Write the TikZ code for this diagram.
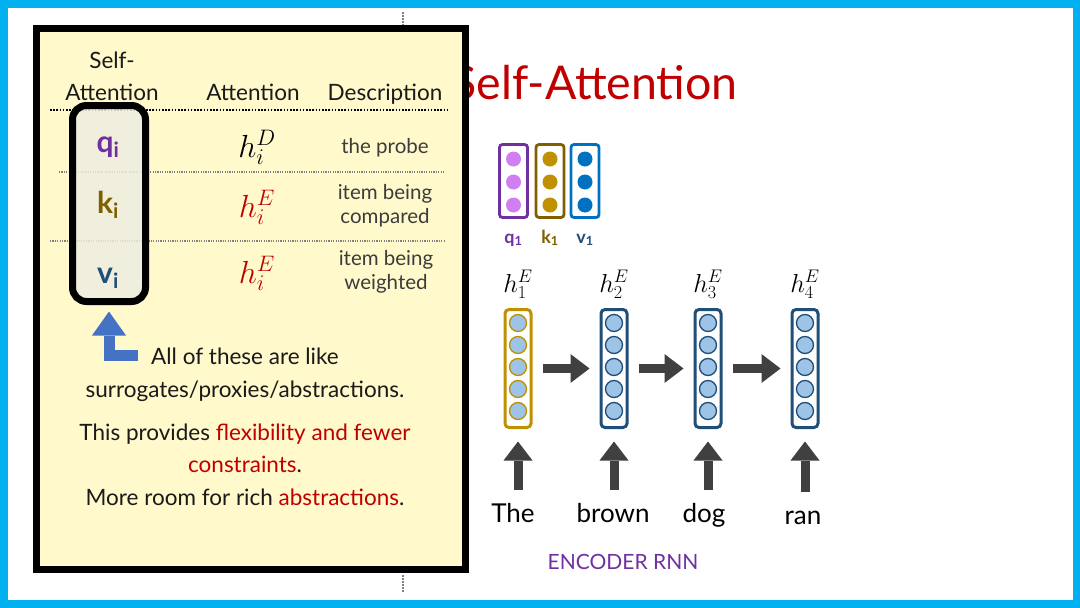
\RequirePackage{fix-cm}
\documentclass[tikz,border=0pt]{standalone}
\usepackage{amsmath}
\usepackage{fontspec}
\setmainfont{Lato}
\usetikzlibrary{arrows.meta,positioning}

\definecolor{frameblue}{HTML}{00B0F0}
\definecolor{notebg}{HTML}{FFF9CC}
\definecolor{qkvbg}{HTML}{EEEDDF}
\definecolor{darkred}{HTML}{C00000}
\definecolor{qpurple}{HTML}{7030A0}
\definecolor{qlight}{HTML}{D07FF2}
\definecolor{kolive}{HTML}{7F6000}
\definecolor{kgold}{HTML}{BF9000}
\definecolor{vblue}{HTML}{0070C0}
\definecolor{steel}{HTML}{1F4E79}
\definecolor{unitblue}{HTML}{9DC3E6}
\definecolor{arrowgray}{HTML}{404040}
\definecolor{bentblue}{HTML}{4472C4}
\definecolor{ink}{HTML}{1A1A1A}

\tikzset{
  divider/.style={draw=gray, line width=1.5pt, dash pattern=on 1.5pt off 1.5pt},
  minibox/.style={rounded corners=3pt, line width=2.8pt, minimum width=28pt, minimum height=73pt, inner sep=0pt},
  minilabel/.style={anchor=base, inner sep=0pt, font=\bfseries\fontsize{18}{21}\selectfont},
  vecbox/.style={draw, rounded corners=4pt, line width=3pt, minimum width=26pt, minimum height=118pt, inner sep=0pt},
  hlabel/.style={anchor=base, inner sep=0pt, font=\fontsize{26}{30}\selectfont},
  word/.style={anchor=base, inner sep=0pt, text height=19pt, font=\fontsize{26}{30}\selectfont},
  fwd/.style={draw=arrowgray, line width=9pt, shorten <=10pt, shorten >=10pt,
    -{Triangle[length=19pt,width=29pt,line width=0pt]}},
  upfwd/.style={fwd, shorten <=13pt, shorten >=12.5pt},
  head/.style={anchor=base, inner sep=0pt, text=ink, font=\fontsize{22.5}{26}\selectfont},
  qkv/.style={anchor=base, inner sep=0pt, font=\bfseries\fontsize{30}{34}\selectfont},
  hcell/.style={anchor=base, inner sep=0pt, font=\fontsize{32}{36}\selectfont},
  desc/.style={anchor=base, inner sep=0pt, align=center, text=ink!85, font=\fontsize{20.5}{23.5}\selectfont},
  rule/.style={line width=1.6pt, dash pattern=on 1.6pt off 1.6pt},
  thinrule/.style={draw=gray, line width=1.2pt, dash pattern=on 1.2pt off 1.2pt},
}

\begin{document}
\begin{tikzpicture}[x=1pt,y=-1pt]
\useasboundingbox (0,0) rectangle (1080,608);
\fill[white] (0,0) rectangle (1080,608);
\draw[line width=7.5pt, frameblue] (3.75,3.75) rectangle (1076.25,604);
\draw[divider] (403,12) -- (403,25);
\draw[divider] (403,575) -- (403,592);

% slide title, partly under the note
\node[anchor=base east, inner sep=0pt, text=darkred, font=\fontsize{46.5}{52}\selectfont] (title) at (738,99) {Self-Attention};

% small q, k, v vectors
\foreach \n/\x/\c/\d in {q/513.5/qpurple/qlight, k/550/kolive/kgold, v/585/vblue/vblue}{
  \node[minibox, draw=\c] (\n box) at (\x,181) {};
  \foreach \k in {0,1,2}
    \fill[\d] (\x,159+23*\k) circle (7.5);
}
\node[minilabel, text=qpurple] (qlab) at (513.5,243) {q$_{\text{1}}$};
\node[minilabel, text=kolive] (klab) at (550,243) {k$_{\text{1}}$};
\node[minilabel, text=steel] (vlab) at (585,243) {v$_{\text{1}}$};

% encoder states
\foreach \i/\x/\c in {1/518/kgold, 2/614/steel, 3/708/steel, 4/805/steel}{
  \node[vecbox, draw=\c] (h\i) at (\x,368.5) {};
  \foreach \k in {0,...,4}
    \filldraw[fill=unitblue, draw=\c, line width=1.3pt] (\x,323+22*\k) circle (8.5);
  \node[hlabel] (lab\i) at (\x,292) {$h^{E}_{\i}$};
}
\foreach \a/\b in {1/2,2/3,3/4}
  \draw[fwd] (h\a) -- (h\b);

% input words
\node[word] (w1) at (513,522) {The};
\node[word] (w2) at (613,522) {brown};
\node[word] (w3) at (704,522) {dog};
\node[word] (w4) at (803,524) {ran};
\foreach \i in {1,...,4}
  \draw[upfwd] (w\i.north -| h\i.south) -- (h\i.south);
\node[anchor=base, inner sep=0pt, text=qpurple, font=\fontsize{21}{24}\selectfont] (enc) at (623,569) {ENCODER RNN};

% the note on top
\draw[line width=6.5pt, fill=notebg] (36.25,28.25) rectangle (465.5,569.5);
\node[head] (sa1) at (112,68) {Self-};
\node[head] (sa2) at (112,100) {Attention};
\node[head] (att) at (253,100) {Attention};
\node[head] (dsc) at (385,100) {Description};
\draw[rule] (50,110) -- (448,110);
\draw[thinrule] (59,172) -- (445,172);
\draw[thinrule] (50,241) -- (444,241);

\node[draw, line width=7pt, rounded corners=14pt, fill=qkvbg, fill opacity=0.85, draw opacity=1,
  minimum width=73pt, minimum height=196pt, inner sep=0pt] (qkvbox) at (109,203.5) {};
\node[qkv, text=qpurple] (qi) at (108,152) {q$_{\text{i}}$};
\node[qkv, text=kolive] (ki) at (108,213) {k$_{\text{i}}$};
\node[qkv, text=steel] (vi) at (108,283) {v$_{\text{i}}$};

\node[hcell] (hd) at (257,157) {$h_i^D$};
\node[hcell, text=darkred] (he1) at (257,217) {$h_i^E$};
\node[hcell, text=darkred] (he2) at (257,283) {$h_i^E$};

\node[desc] (d1) at (385,153) {the probe};
\node[desc] (d2) at (385,223) {item being\\compared};
\node[desc] (d3) at (386,289) {item being\\weighted};

% pointer to the q, k, v column
\coordinate (bend) at (138,355.5);
\draw[draw=bentblue, line width=11pt, shorten >=6.5pt,
  -{Triangle[length=24pt,width=34pt,line width=0pt]}] (bend) -| (qkvbox.south);

\node[anchor=base, inner sep=0pt, align=center, text=ink, font=\fontsize{22.5}{32.5}\selectfont] (note) at (245,505)
  {All of these are like\\surrogates/proxies/abstractions.\\[10.5pt]
   This provides \textcolor{darkred}{flexibility and fewer}\\\textcolor{darkred}{constraints}.\\
   More room for rich \textcolor{darkred}{abstractions}.};
\end{tikzpicture}
\end{document}
